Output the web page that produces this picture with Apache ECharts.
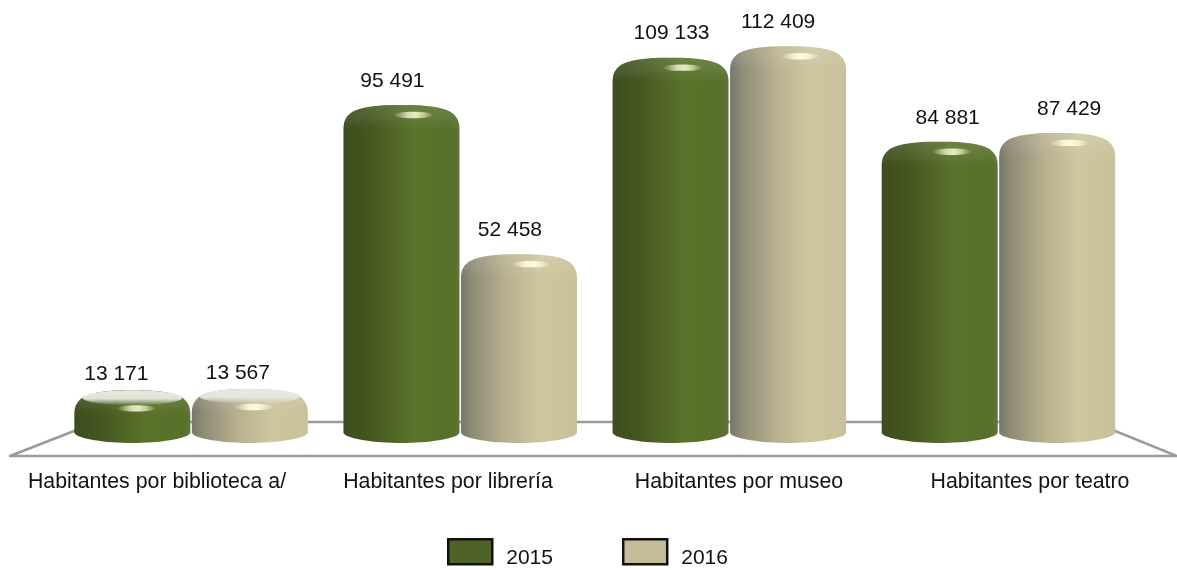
<!DOCTYPE html>
<html>
<head>
<meta charset="utf-8">
<style>
    html, body { margin: 0; padding: 0; background: #fff; }
    #chart { width: 1177px; height: 570px; }
</style>
</head>
<body>
<div id="chart"></div>
<script src="https://cdn.jsdelivr.net/npm/echarts@6/dist/echarts.min.js"></script>
<script>
const categories = ['Habitantes por biblioteca a/', 'Habitantes por librería', 'Habitantes por museo', 'Habitantes por teatro']
const years = ['2015', '2016']
const values2015 = [13171, 95491, 109133, 84881]
const values2016 = [13567, 52458, 112409, 87429]

// horizontal shift of the value labels, they do not sit centred in the reference
const labelShift2015 = [-16, -9, 1, 8]
const labelShift2016 = [-12, -9, -10, 12]

const FONT = '"Liberation Sans", Arial, sans-serif'
const BAR_W = 116
const BAR_GAP = 1.5

const green = {
    legend: '#4f6228',
    body: [[0, '#3d4c1e'], [0.22, '#445620'], [0.6, '#5a7229'], [0.94, '#57702a'], [1, '#5f7437']],
    glow: [228, 236, 196]
}
const tan = {
    legend: '#c4bd97',
    body: [[0, '#77776a'], [0.1, '#8f8c76'], [0.4, '#b9b18f'], [0.68, '#cec69f'], [1, '#c8c19b']],
    glow: [255, 251, 224]
}

const gradient = (x0, y0, x1, y1, stops) =>
    new echarts.graphic.LinearGradient(x0, y0, x1, y1, stops.map(s => ({ offset: s[0], color: s[1] })))

const glowFill = c => {
    const rgba = a => 'rgba(' + c.join(',') + ',' + a + ')'
    return gradient(0, 0, 1, 0, [[0, rgba(0)], [0.35, rgba(0.85)], [0.55, rgba(1)], [0.75, rgba(0.7)], [1, rgba(0)]])
}

// one cylinder: rounded shoulders on top, an elliptic foot below the zero line
const cylinderItem = (seriesIdx, theme, shifts) => (params, api) => {
    const cat = api.value(0)
    const val = api.value(1)
    const p = api.coord([cat, val])
    const base = api.coord([cat, 0])[1]
    const dir = seriesIdx === 0 ? -1 : 1
    const xc = p[0] + dir * (BAR_W + BAR_GAP) / 2
    const x0 = xc - BAR_W / 2
    const x1 = xc + BAR_W / 2
    const t = p[1]
    const foot = base + 7
    const short = base - t < 100
    const d = [
        'M', x0, base - 3,
        'L', x0, t + 24,
        'C', x0, t + 9, x0 + 10, t + 4, x0 + 28, t + 1.5,
        'C', x0 + 40, t, xc - 14, t, xc, t,
        'C', xc + 14, t, x1 - 40, t, x1 - 28, t + 1.5,
        'C', x1 - 10, t + 4, x1, t + 9, x1, t + 24,
        'L', x1, base - 3,
        'C', x1 - 3, base + 3, x1 - 32, foot, xc, foot,
        'C', x0 + 32, foot, x0 + 3, base + 3, x0, base - 3,
        'Z'
    ].join(' ')
    const shape = { pathData: d, x: x0, y: t, width: BAR_W, height: foot - t, layout: 'cover' }
    const capH = 24 / (foot - t)
    const children = [
        { type: 'path', shape: shape, style: { fill: gradient(0, 0, 1, 0, theme.body) } },
        {
            // slight lift on the shoulders
            type: 'path',
            shape: shape,
            style: {
                fill: gradient(0, 0, 0, 1, [
                    [0, 'rgba(255,255,255,0.12)'],
                    [capH * 0.5, 'rgba(255,255,255,0.08)'],
                    [capH, 'rgba(255,255,255,0)'],
                    [1, 'rgba(255,255,255,0)']
                ])
            }
        }
    ]
    if (short) {
        // the squat cylinders show their pale top face
        children.push({
            type: 'ellipse',
            shape: { cx: xc, cy: t + 7.5, rx: 50, ry: 7.5 },
            style: {
                fill: gradient(0, 0, 0, 1, [
                    [0, 'rgba(232,232,224,1)'],
                    [0.55, 'rgba(232,232,224,0.95)'],
                    [1, 'rgba(232,232,224,0)']
                ])
            }
        })
    }
    children.push({
        type: 'ellipse',
        shape: { cx: xc + (short ? 4 : 12), cy: t + (short ? 18 : 10), rx: 20, ry: 3.2 },
        style: { fill: glowFill(theme.glow) }
    })
    children.push({
        type: 'text',
        style: {
            x: xc + shifts[cat],
            y: t - (short ? 16 : 24),
            text: String(val).replace(/\B(?=(\d{3})+$)/g, ' '),
            fill: '#111',
            font: '21px ' + FONT,
            align: 'center',
            verticalAlign: 'middle'
        }
    })
    return { type: 'group', children: children }
}

const chart = echarts.init(document.getElementById('chart'))
chart.setOption({
    animation: false,
    textStyle: { fontFamily: FONT },
    grid: [
        { left: 56.5, width: 1076.5, top: 20, height: 416 },
        // second band only for the category labels, they are spaced wider than the bars
        { left: 11.5, width: 1164, top: 440, height: 16 }
    ],
    xAxis: [
        { type: 'category', gridIndex: 0, data: categories, show: false },
        {
            type: 'category',
            gridIndex: 1,
            data: categories,
            axisLine: { show: false },
            axisTick: { show: false },
            axisLabel: { interval: 0, margin: 16, fontSize: 21.3, color: '#111', fontFamily: FONT }
        }
    ],
    yAxis: [
        { type: 'value', gridIndex: 0, min: 0, max: 120000, show: false },
        { type: 'value', gridIndex: 1, show: false }
    ],
    legend: {
        data: years,
        left: 442,
        top: 533,
        icon: 'rect',
        itemWidth: 44,
        itemHeight: 25,
        itemGap: 69,
        itemStyle: { borderColor: '#111', borderWidth: 2.5 },
        formatter: '{y|{name}}',
        textStyle: {
            rich: {
                y: { fontSize: 21, color: '#111', fontFamily: FONT, padding: [12, 0, 0, 9] }
            }
        }
    },
    // floor plane behind the cylinders
    graphic: [
        {
            type: 'polygon',
            z: 0,
            silent: true,
            shape: { points: [[10, 456], [97, 422], [1093, 422], [1177, 456]] },
            style: { fill: 'transparent', stroke: '#9a9a9a', lineWidth: 2.5, lineJoin: 'round' }
        }
    ],
    series: [
        {
            name: years[0],
            type: 'custom',
            renderItem: cylinderItem(0, green, labelShift2015),
            itemStyle: { color: green.legend },
            encode: { x: 0, y: 1 },
            clip: false,
            data: values2015.map((v, i) => [i, v])
        },
        {
            name: years[1],
            type: 'custom',
            renderItem: cylinderItem(1, tan, labelShift2016),
            itemStyle: { color: tan.legend },
            encode: { x: 0, y: 1 },
            clip: false,
            data: values2016.map((v, i) => [i, v])
        }
    ]
})
</script>
</body>
</html>
